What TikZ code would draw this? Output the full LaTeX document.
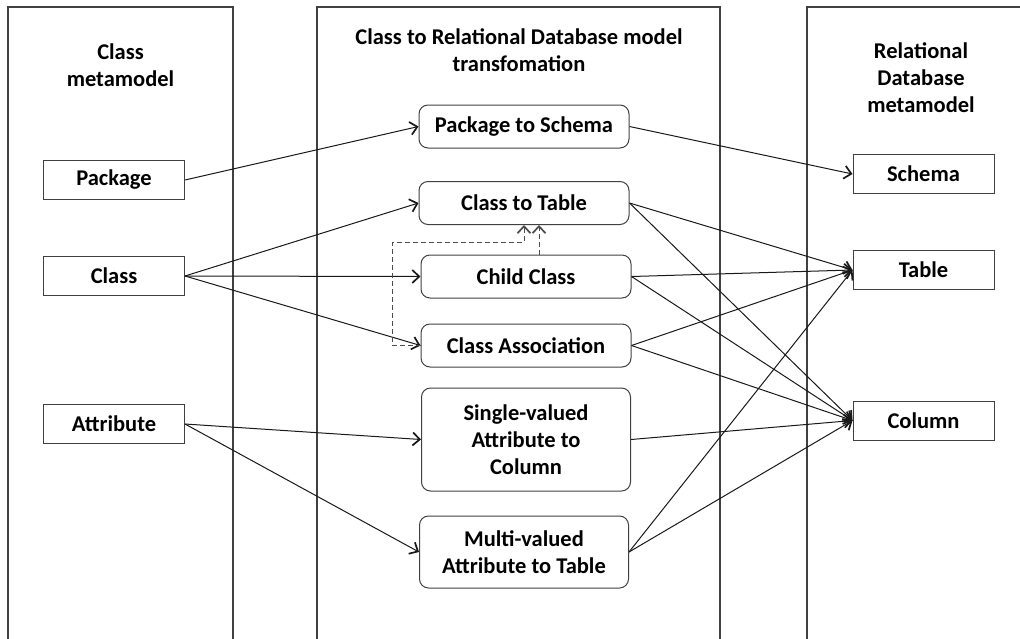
\documentclass[tikz,border=0pt]{standalone}
\usepackage{fontspec}
\setmainfont{Carlito}
\usetikzlibrary{arrows.meta,calc}

\tikzset{
  lane/.style={draw=black!75, line width=1.3pt},
  elem/.style={draw=black!75, line width=1pt, minimum width=141, minimum height=39,
    font=\fontsize{22.5}{27}\selectfont\bfseries},
  rule/.style={elem, rounded corners=9pt, minimum width=210, minimum height=43, align=center},
  lanetitle/.style={align=center, font=\fontsize{22.5}{27}\selectfont\bfseries},
  map/.style={draw=black!90, line width=1pt, -{Straight Barb[length=7pt,width=13pt,line width=1.7pt]}},
  dep/.style={map, dash pattern=on 5pt off 3pt, draw=black!70}
}

\begin{document}
\begin{tikzpicture}[x=1pt,y=-1pt]

	\useasboundingbox (0,0) rectangle (1020,638);

	% three lanes, open at the bottom
	\draw[lane] (8,640) -- (8,7) -- (233,7) -- (233,640);
	\draw[lane] (317,640) -- (317,7) -- (720,7) -- (720,640);
	\draw[lane] (807,640) -- (807,7) -- (1022,7);

	\node[lanetitle] (ttlcls) at (120.5,65) {Class\\metamodel};
	\node[lanetitle] (ttlrdb) at (921,78) {Relational\\Database\\metamodel};
	\node[lanetitle] (ttltrf) at (519,50) {Class to Relational Database model\\transfomation};

	% source metamodel
	\node[elem] (pkg) at (114,180) {Package};
	\node[elem] (cls) at (114,276) {Class};
	\node[elem] (attr) at (114,424) {Attribute};

	% transformation rules
	\node[rule] (p2s) at (524,126.5) {Package to Schema};
	\node[rule] (c2t) at (524,203) {Class to Table};
	\node[rule] (child) at (526,276.5) {Child Class};
	\node[rule] (assoc) at (526,345.5) {Class Association};
	\node[rule, minimum width=209, minimum height=103] (single) at (526,439.5)
		{Single-valued\\Attribute to\\Column};
	\node[rule, minimum width=209, minimum height=72] (multi) at (524,552)
		{Multi-valued\\Attribute to Table};

	% target metamodel
	\node[elem] (schema) at (923.5,174) {Schema};
	\node[elem] (table) at (923.5,270) {Table};
	\node[elem] (column) at (923.5,420.5) {Column};

	\draw[map] (pkg.east) -- (p2s.west);
	\draw[map] (cls.east) -- (c2t.west);
	\draw[map] (cls.east) -- (child.west);
	\draw[map] (cls.east) -- (assoc.west);
	\draw[map] (attr.east) -- (single.west);
	\draw[map] (attr.east) -- (multi.west);

	\draw[map] (p2s.east) -- (schema.west);
	\foreach \r in {c2t,child,assoc,multi}
		\draw[map] (\r.east) -- (table.west);
	\foreach \r in {c2t,child,assoc,single,multi}
		\draw[map] (\r.east) -- (column.west);

	% dependencies on Class to Table
	\draw[dep] ([xshift=13]child.north) -- ([xshift=13]child.north |- c2t.south);
	\draw[dep] (assoc.west) -- ++(-28,0) |- ($(c2t.south)+(0,17)$) -- (c2t.south);

\end{tikzpicture}
\end{document}
